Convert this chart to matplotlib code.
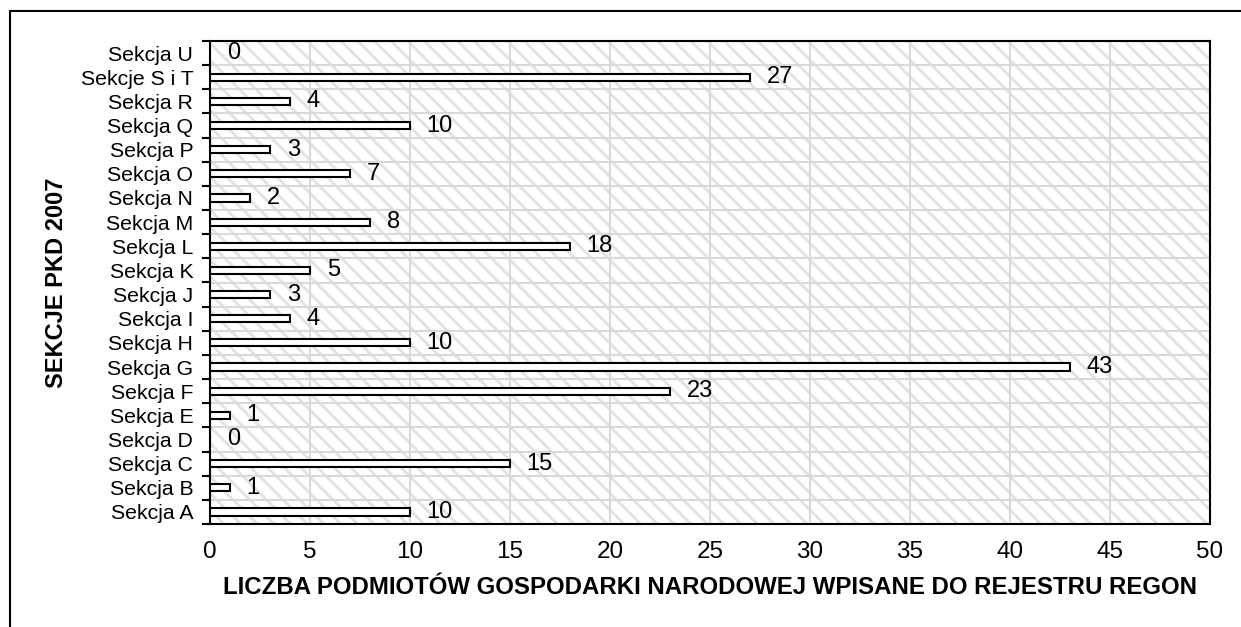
import matplotlib
matplotlib.use("Agg")
import matplotlib.pyplot as plt
from matplotlib.patches import Rectangle
import numpy as np

plt.rcParams['font.family'] = ['Liberation Sans', 'DejaVu Sans']
plt.rcParams['hatch.linewidth'] = 2.0

categories = ["Sekcja A", "Sekcja B", "Sekcja C", "Sekcja D", "Sekcja E", "Sekcja F",
              "Sekcja G", "Sekcja H", "Sekcja I", "Sekcja J", "Sekcja K", "Sekcja L",
              "Sekcja M", "Sekcja N", "Sekcja O", "Sekcja P", "Sekcja Q", "Sekcja R",
              "Sekcje S i T", "Sekcja U"]
values = [10, 1, 15, 0, 1, 23, 43, 10, 4, 3, 5, 18, 8, 2, 7, 3, 10, 4, 27, 0]
xticks = [0, 5, 10, 15, 20, 25, 30, 35, 40, 45, 50]

W, H = 1241, 627
fig = plt.figure(figsize=(W / 100, H / 100), dpi=100)
ax = fig.add_axes([210 / W, 1 - 524 / H, 1000 / W, 483 / H])

# outer border
fig.patches.append(Rectangle((10 / W, -0.1), 1.2, 1 - 11 / H + 0.1, transform=fig.transFigure,
                             fill=False, edgecolor='black', linewidth=1.5))

# hatched background
ax.set_facecolor('white')
bg = Rectangle((0, 0), 1, 1, transform=ax.transAxes, facecolor='white',
               edgecolor='#e2e2e2', hatch='\\\\', linewidth=0, zorder=0)
ax.add_patch(bg)

y = np.arange(len(categories))
ax.barh(y, values, height=0.3, color='white', edgecolor='black', linewidth=1.5, zorder=3)

for yi, v in zip(y, values):
    ax.annotate(str(v), xy=(v, yi), xytext=(12, 0), textcoords='offset points',
                ha='left', va='center', fontsize=17, zorder=4)

ax.set_xlim(0, 50)
ax.set_ylim(-0.5, len(categories) - 0.5)
ax.set_xticks(xticks)
ax.set_yticks(y)
ax.set_yticklabels(categories)
ax.set_yticks(np.arange(-0.5, len(categories) + 0.5, 1), minor=True)
ax.tick_params(axis='x', length=0, pad=12, labelsize=17.5)
ax.tick_params(axis='y', which='major', length=0, pad=12, labelsize=15.3)
ax.tick_params(axis='y', which='minor', length=6, width=1.5, direction='out')

ax.grid(axis='x', which='major', color='#d9d9d9', linewidth=1.5, zorder=1)
ax.grid(axis='y', which='minor', color='#d9d9d9', linewidth=1.5, zorder=1)
ax.set_axisbelow(True)
for s in ax.spines.values():
    s.set_linewidth(1.5)
    s.set_zorder(5)

ax.set_xlabel("LICZBA PODMIOTÓW GOSPODARKI NARODOWEJ WPISANE DO REJESTRU REGON",
              fontsize=17.3, fontweight='bold')
ax.xaxis.set_label_coords(0.5, -(588 - 524) / 483, transform=ax.transAxes)
ax.set_ylabel("SEKCJE PKD 2007", fontsize=17, fontweight='bold')
ax.yaxis.set_label_coords(-(210 - 57) / 1000, 0.5)
ax.yaxis.label.set_va('center')
ax.xaxis.label.set_va('center')

fig.savefig("out.png", dpi=100)
